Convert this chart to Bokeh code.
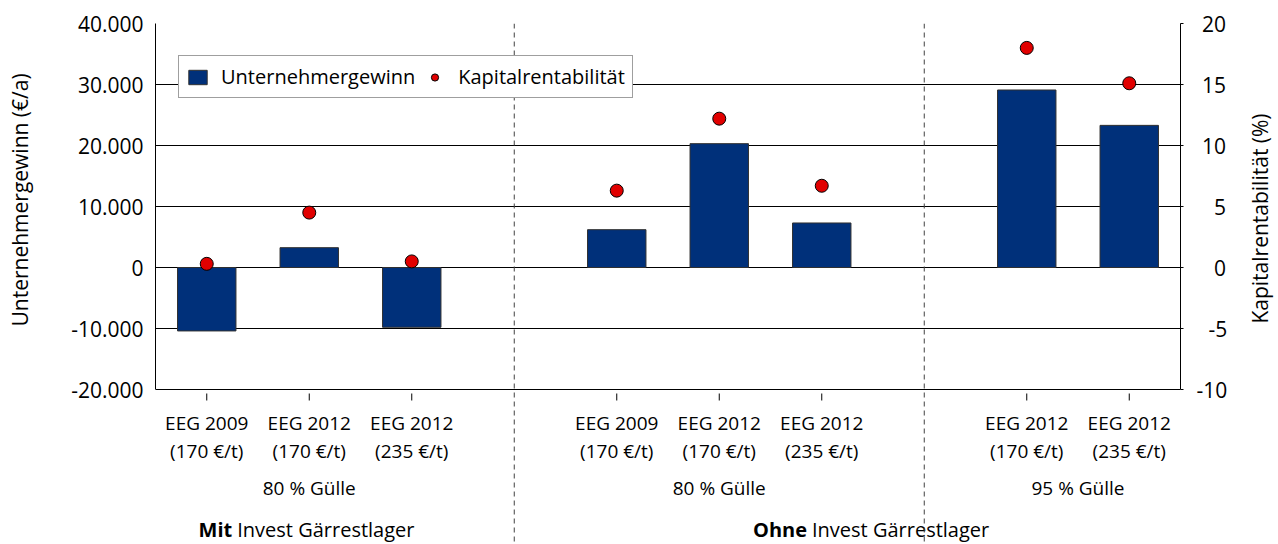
import math
from bokeh.plotting import figure
from bokeh.layouts import row
from bokeh.models import Range1d, LinearAxis, FixedTicker, Span, Grid
from bokeh.core.properties import value
from bokeh.embed import file_html
from bokeh.resources import INLINE

# ---------------- data ----------------
slot_range = (0.5, 10.5)
bar_slots = [1, 2, 3, 5, 6, 7, 9, 10]
divider_slots = [4, 8]
eeg_labels = ["EEG 2009", "EEG 2012", "EEG 2012",
              "EEG 2009", "EEG 2012", "EEG 2012",
              "EEG 2012", "EEG 2012"]
price_labels = ["(170 €/t)", "(170 €/t)", "(235 €/t)",
                "(170 €/t)", "(170 €/t)", "(235 €/t)",
                "(170 €/t)", "(235 €/t)"]
gewinn = [-10400, 3250, -9800, 6200, 20300, 7300, 29100, 23300]
rendite = [0.3, 4.5, 0.5, 6.3, 12.2, 6.7, 18.0, 15.1]
guelle_labels = ["80 % Gülle", "80 % Gülle", "95 % Gülle"]
guelle_slots = [2, 6, 9.5]
invest_bold = ["Mit", "Ohne"]
invest_rest = ["Invest Gärrestlager", "Invest Gärrestlager"]
invest_slots = [2, 7.5]
left_ticks = [-20000, -10000, 0, 10000, 20000, 30000, 40000]
right_ticks = [-10, -5, 0, 5, 10, 15, 20]
left_title = "Unternehmergewinn (€/a)"
right_title = "Kapitalrentabilität (%)"
series_names = ["Unternehmergewinn", "Kapitalrentabilität"]

# ---------------- layout / style ----------------
FONT_NAME = "Open Sans"
FONT = value(FONT_NAME)
FRAME_W = 1025
AXIS_H = 366          # pixel height of the value-axis span
FRAME_H = 521         # frame reaches down to the bottom of the canvas
TOP = 23
BAR_COLOR = "#00307A"
DOT_COLOR = "#E10000"
FSP = "\u2007"        # figure space, used to shift the centred left title

lmin, lmax = left_ticks[0], left_ticks[-1]
rmin, rmax = right_ticks[0], right_ticks[-1]
upp = (lmax - lmin) / AXIS_H
rupp = (rmax - rmin) / AXIS_H

p = figure(frame_width=FRAME_W, frame_height=FRAME_H,
           x_range=Range1d(*slot_range),
           y_range=Range1d(lmax - FRAME_H * upp, lmax),
           x_axis_type=None, y_axis_type=None,
           min_border_left=155, min_border_right=60,
           min_border_top=TOP, min_border_bottom=0,
           output_backend="svg", toolbar_location=None)
p.outline_line_color = None
p.background_fill_color = "white"
p.border_fill_color = "white"
p.extra_y_ranges = {"pct": Range1d(rmax - FRAME_H * rupp, rmax)}

# left axis
lax = LinearAxis(ticker=FixedTicker(ticks=left_ticks), bounds=(lmin, lmax))
lax.major_label_overrides = {t: f"{t:,}".replace(",", ".") for t in left_ticks}
lax.major_tick_out = 0
lax.major_tick_in = 0
lax.minor_tick_out = 0
lax.minor_tick_in = 0
lax.axis_line_color = "black"
lax.major_label_standoff = 12
lax.major_label_text_font = FONT_NAME
lax.major_label_text_font_size = "21px"
lax.major_label_text_color = "black"
lax.axis_label = FSP * 14 + left_title
lax.axis_label_standoff = 34
lax.axis_label_text_font = FONT_NAME
lax.axis_label_text_font_size = "21px"
lax.axis_label_text_font_style = "normal"
lax.axis_label_text_color = "black"
p.add_layout(lax, "left")

# right axis (labels padded with figure spaces so they line up on the right)
def pad(t):
    s = str(t)
    w = {"-10": "", "-5": "\u2007", "20": "\u2008", "15": "\u2008", "10": "\u2008"}
    return w.get(s, "\u2008\u2007") + s

rax = LinearAxis(y_range_name="pct", ticker=FixedTicker(ticks=right_ticks), bounds=(rmin, rmax))
rax.major_label_overrides = {t: pad(t) for t in right_ticks}
rax.major_tick_out = 3
rax.major_tick_in = 0
rax.minor_tick_out = 0
rax.minor_tick_in = 0
rax.axis_line_color = "black"
rax.major_tick_line_color = "black"
rax.major_label_standoff = 13
rax.major_label_text_font = FONT_NAME
rax.major_label_text_font_size = "21px"
rax.major_label_text_color = "black"
p.add_layout(rax, "right")

# horizontal grid
p.add_layout(Grid(dimension=1, ticker=FixedTicker(ticks=left_ticks),
                  grid_line_color="black", grid_line_width=1))

# dashed dividers
for s in divider_slots:
    p.add_layout(Span(location=s, dimension="height", line_color="#404040",
                      line_width=1, line_dash="5 4"))

# bars and dots
p.vbar(x=bar_slots, top=gewinn, bottom=0, width=0.57,
       fill_color=BAR_COLOR, line_color="#303030", line_width=1,
       legend_label=series_names[0])
p.scatter(x=bar_slots, y=rendite, y_range_name="pct", size=13,
          fill_color=DOT_COLOR, line_color="black", line_width=1,
          legend_label=series_names[1])

# category ticks & labels below the value axis
n = len(bar_slots)
p.segment(x0=bar_slots, x1=bar_slots, y0=[lmin - 4 * upp] * n, y1=[lmin - 11 * upp] * n,
          line_color="black", line_width=1)
common = dict(text_align="center", text_baseline="middle", text_font=FONT,
              text_color="black")
p.text(x=bar_slots, y=[lmin] * n, text=eeg_labels, y_offset=33,
       text_font_size="19px", **common)
p.text(x=bar_slots, y=[lmin] * n, text=price_labels, y_offset=61,
       text_font_size="19px", **common)
p.text(x=guelle_slots, y=[lmin] * len(guelle_slots), text=guelle_labels, y_offset=98,
       text_font_size="19px", **common)
p.text(x=invest_slots, y=[lmin] * 2, text=invest_bold, y_offset=140,
       x_offset=[-77, -66], text_align="right", text_baseline="middle",
       text_font=FONT, text_font_size="20px", text_font_style="bold", text_color="black")
p.text(x=invest_slots, y=[lmin] * 2, text=invest_rest, y_offset=140,
       x_offset=[-72, -61], text_align="left", text_baseline="middle",
       text_font=FONT, text_font_size="20px", text_color="black")

# legend
leg = p.legend[0]
leg.location = (23, FRAME_H - 34 - 41)
leg.orientation = "horizontal"
leg.border_line_color = "#404040"
leg.border_line_width = 1
leg.background_fill_color = "white"
leg.background_fill_alpha = 1
leg.label_text_font = FONT_NAME
leg.label_text_font_size = "20px"
leg.label_text_color = "black"
leg.glyph_width = 23
leg.glyph_height = 18
leg.label_height = 21
leg.label_standoff = 12
leg.spacing = 8
leg.padding = 7
leg.margin = 0

# right-hand title strip (text reads bottom-to-top as in the reference)
STRIP_W = 38
total_h = TOP + FRAME_H
t = figure(frame_width=STRIP_W, frame_height=total_h,
           x_range=Range1d(0, STRIP_W), y_range=Range1d(total_h, 0),
           x_axis_type=None, y_axis_type=None,
           min_border_left=0, min_border_right=0, min_border_top=0, min_border_bottom=0,
           output_backend="svg", toolbar_location=None)
t.outline_line_color = None
t.background_fill_color = "white"
t.border_fill_color = "white"
t.text(x=[19], y=[195], text=[right_title], angle=math.pi / 2,
       text_align="center", text_baseline="middle", text_font=FONT,
       text_font_size="21px", text_color="black")

layout = row(p, t, spacing=0)
open("out.html", "w").write(file_html(layout, INLINE))
